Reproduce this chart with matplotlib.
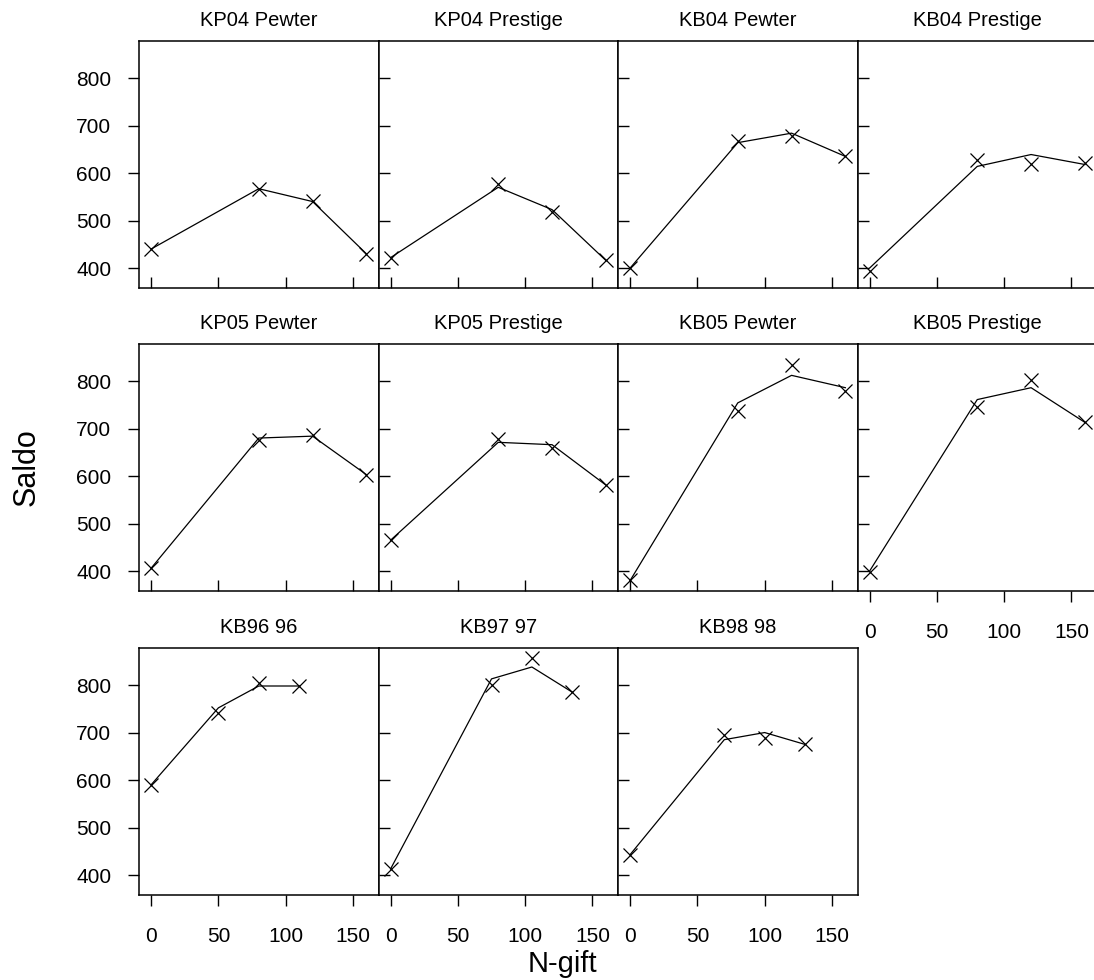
import numpy as np
import matplotlib
matplotlib.use('Agg')
import matplotlib.pyplot as plt

plt.rcParams['font.family'] = ['Liberation Sans', 'DejaVu Sans']

# panel names in lattice order (row by row from top)
panels = ['KP04 Pewter', 'KP04 Prestige', 'KB04 Pewter', 'KB04 Prestige',
          'KP05 Pewter', 'KP05 Prestige', 'KB05 Pewter', 'KB05 Prestige',
          'KB96 96', 'KB97 97', 'KB98 98']

x_0405 = [0, 80, 120, 160]
x_96 = [0, 50, 80, 110]
x_97 = [0, 75, 105, 135]
x_98 = [0, 70, 100, 130]
ngift = [x_0405] * 8 + [x_96, x_97, x_98]

# observed Saldo (crosses)
saldo = [
    [440, 567, 542, 430],
    [422, 576, 519, 416],
    [401, 667, 677, 635],
    [394, 628, 619, 622],
    [406, 675, 687, 602],
    [465, 678, 659, 581],
    [382, 736, 834, 779],
    [398, 746, 802, 713],
    [590, 741, 804, 797],
    [413, 800, 857, 785],
    [443, 694, 689, 675],
]

# fitted Saldo (line)
fitted = [
    [440, 567, 540, 430],
    [422, 570, 523, 416],
    [400, 664, 684, 635],
    [400, 614, 639, 618],
    [406, 680, 684, 603],
    [465, 671, 666, 581],
    [380, 754, 812, 786],
    [400, 761, 786, 713],
    [590, 752, 798, 798],
    [413, 813, 838, 785],
    [443, 685, 700, 675],
]

xticks = [0, 50, 100, 150]
yticks = [400, 500, 600, 700, 800]

W, H = 1094, 980
fig = plt.figure(figsize=(W / 100, H / 100), dpi=100)

left0 = 139
pw = 239.5
ph = 247
tops = [41, 344, 648]

for i, name in enumerate(panels):
    r, c = divmod(i, 4)
    ax = fig.add_axes([(left0 + c * pw) / W, 1 - (tops[r] + ph) / H, pw / W, ph / H])
    ax.plot(ngift[i], fitted[i], color='black', lw=0.9)
    ax.plot(ngift[i], saldo[i], linestyle='none', marker='x', color='black',
            markersize=10, markeredgewidth=0.9)
    ax.set_xlim(-9, 169)
    ax.set_ylim(358, 878)
    ax.set_xticks(xticks)
    ax.set_yticks(yticks)
    for s in ax.spines.values():
        s.set_linewidth(1.1)

    bottom_lab = (r == 2) or (r == 1 and c == 3)
    if bottom_lab:
        ax.tick_params(axis='x', direction='out', length=8, width=1,
                       labelsize=15, pad=15)
    else:
        ax.tick_params(axis='x', direction='in', length=8, width=1,
                       labelbottom=False)
    if c == 0:
        ax.tick_params(axis='y', direction='out', length=8, width=1,
                       labelsize=15, pad=12)
    else:
        ax.tick_params(axis='y', direction='in', length=8, width=1,
                       labelleft=False)

    ax.annotate(name, (0.5, 1), xycoords='axes fraction', xytext=(0, 15),
                textcoords='offset points', ha='center', va='center', fontsize=14.5)

fig.text(27 / W, 1 - 467 / H, 'Saldo', rotation=90, ha='center', va='center', fontsize=22)
fig.text(562 / W, 1 - 964 / H, 'N-gift', ha='center', va='center', fontsize=21)

fig.savefig('out.png', dpi=100)
